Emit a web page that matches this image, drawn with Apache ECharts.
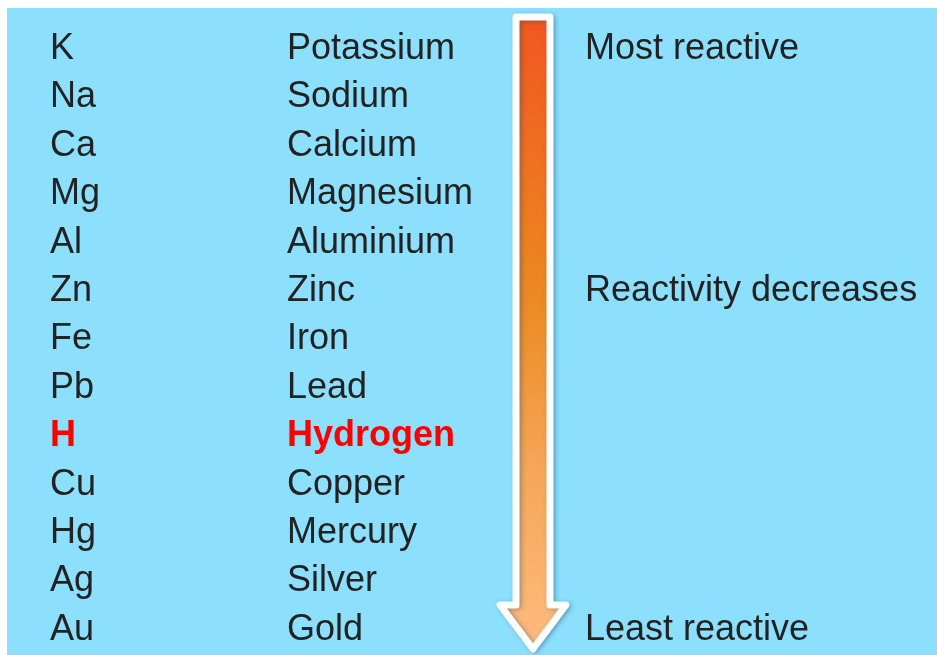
<!DOCTYPE html>
<html>
<head>
<meta charset="utf-8">
<script src="https://cdn.jsdelivr.net/npm/echarts@6/dist/echarts.min.js"></script>
<style>
html,body{margin:0;padding:0;background:#ffffff;}
#chart{width:937px;height:655px;}
</style>
</head>
<body>
<div id="chart"></div>
<script>
const symbols = ['K','Na','Ca','Mg','Al','Zn','Fe','Pb','H','Cu','Hg','Ag','Au'];
const names = ['Potassium','Sodium','Calcium','Magnesium','Aluminium','Zinc','Iron','Lead','Hydrogen','Copper','Mercury','Silver','Gold'];
const notes = ['Most reactive','','','','','Reactivity decreases','','','','','','','Least reactive'];
const highlighted = ['H'];

const COL_SYMBOL = 50, COL_NAME = 287, COL_NOTE = 585, COL_ARROW = 533;
const FONT = '"Liberation Sans", Arial, Helvetica, sans-serif';
const TEXT_COLOR = '#222222';
const RED = '#ff0000';

function textSeries(x, texts) {
  const items = [];
  texts.forEach((t, i) => {
    if (t === '') return;
    const hl = highlighted.includes(symbols[i]) && x !== COL_NOTE;
    items.push({
      value: [x, symbols[i]],
      name: t,
      label: hl ? {color: RED, fontWeight: 'bold'} : {}
    });
  });
  return {
    type: 'scatter',
    symbolSize: 0,
    silent: true,
    z: 5,
    itemStyle: {opacity: 1},
    data: items,
    label: {
      show: true,
      position: 'inside',
      align: 'left',
      verticalAlign: 'middle',
      offset: [0, 3],
      fontFamily: FONT,
      fontSize: 36,
      color: TEXT_COLOR,
      opacity: 1,
      formatter: p => p.name
    }
  };
}

const chart = echarts.init(document.getElementById('chart'), null, {renderer: 'canvas'});
chart.setOption({
  animation: false,
  backgroundColor: '#ffffff',
  graphic: [{
    type: 'rect', z: -10, silent: true,
    shape: {x: 7, y: 8, width: 940, height: 660},
    style: {fill: '#8ce0fd'}
  }],
  grid: {left: 0, right: 0, top: 21.8, bottom: 3.8},
  xAxis: {type: 'value', min: 0, max: 937, show: false},
  yAxis: {type: 'category', data: symbols, inverse: true, show: false},
  series: [
    {
      type: 'custom',
      clip: false,
      silent: true,
      z: 3,
      data: [[COL_ARROW, 0, symbols.length - 1]],
      renderItem: function (params, api) {
        const p0 = api.coord([api.value(0), symbols[api.value(1)]]);
        const p1 = api.coord([api.value(0), symbols[api.value(2)]]);
        const cx = p0[0];
        const yTop = p0[1] - 29;
        const headBase = p1[1] - 22, tip = p1[1] + 22;
        const sw = 17, hw = 33;
        const pts = [
          [cx - sw, yTop], [cx + sw, yTop], [cx + sw, headBase], [cx + hw, headBase],
          [cx, tip], [cx - hw, headBase], [cx - sw, headBase]
        ];
        return {
          type: 'polygon',
          shape: {points: pts},
          style: {
            fill: new echarts.graphic.LinearGradient(0, 0, 0, 1, [
              {offset: 0, color: '#f1561f'},
              {offset: 0.45, color: '#ec8a22'},
              {offset: 0.72, color: '#f6a75a'},
              {offset: 1, color: '#ffbb7e'}
            ]),
            stroke: '#ffffff',
            lineWidth: 7,
            lineJoin: 'round',
            shadowBlur: 5,
            shadowColor: 'rgba(0,70,110,0.35)',
            shadowOffsetX: 2,
            shadowOffsetY: 1
          }
        };
      }
    },
    textSeries(COL_SYMBOL, symbols),
    textSeries(COL_NAME, names),
    textSeries(COL_NOTE, notes)
  ]
});
</script>
</body>
</html>
